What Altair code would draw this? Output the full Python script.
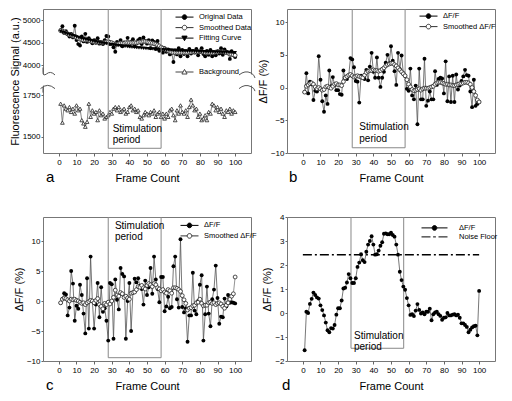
import altair as alt
import pandas as pd

FONT = "Liberation Sans"

frames = list(range(1, 101))
x_ticks = list(range(0, 101, 10))

# ---------------- Panel a : raw fluorescence ----------------
orig_data = [4780, 4870, 4720, 4760, 4690, 4640, 4700, 4620, 4880, 4560,
             4470, 4440, 4640, 4530, 4700, 4520, 4600, 4550, 4490, 4560,
             4500, 4600, 4480, 4510, 4470, 4560, 4650, 4640, 4470, 4490,
             4400, 4300, 4520, 4480, 4560, 4420, 4510, 4470, 4610, 4440,
             4520, 4580, 4420, 4480, 4560, 4590, 4470, 4620, 4540, 4480,
             4560, 4380, 4550, 4520, 4360, 4540, 4320, 4400, 4280, 4380,
             4300, 4350, 4240, 4280, 4070, 4330, 4240, 4380, 4200, 4340,
             4250, 4300, 4200, 4360, 4260, 4320, 4280, 4360, 4220, 4300,
             4380, 4250, 4200, 4320, 4230, 4340, 4200, 4290, 4220, 4310,
             4260, 4380, 4230, 4350, 4300, 4280, 4140, 4310, 4260, 4180]
smooth_data = [4770, 4760, 4740, 4720, 4700, 4680, 4670, 4650, 4640, 4620,
               4600, 4580, 4570, 4560, 4560, 4560, 4550, 4540, 4530, 4520,
               4520, 4520, 4510, 4510, 4500, 4510, 4520, 4520, 4510, 4500,
               4480, 4470, 4470, 4480, 4490, 4490, 4490, 4500, 4500, 4500,
               4500, 4500, 4500, 4500, 4510, 4520, 4520, 4530, 4530, 4520,
               4510, 4500, 4490, 4480, 4470, 4450, 4430, 4400, 4380, 4360,
               4340, 4320, 4300, 4290, 4280, 4280, 4280, 4280, 4280, 4280,
               4280, 4280, 4280, 4290, 4290, 4300, 4300, 4300, 4300, 4300,
               4300, 4290, 4280, 4280, 4280, 4280, 4280, 4280, 4290, 4290,
               4300, 4300, 4300, 4290, 4280, 4270, 4250, 4240, 4230, 4220]
fit_curve = [4755, 4740, 4725, 4711, 4697, 4684, 4671, 4658, 4646, 4634,
             4622, 4611, 4600, 4589, 4579, 4569, 4559, 4550, 4541, 4532,
             4524, 4516, 4508, 4500, 4493, 4486, 4479, 4472, 4466, 4460,
             4454, 4448, 4442, 4437, 4432, 4427, 4422, 4417, 4413, 4408,
             4404, 4400, 4396, 4392, 4388, 4384, 4381, 4377, 4374, 4371,
             4368, 4365, 4362, 4359, 4356, 4353, 4350, 4348, 4345, 4343,
             4340, 4338, 4336, 4334, 4331, 4329, 4327, 4325, 4323, 4321,
             4320, 4318, 4316, 4314, 4313, 4311, 4309, 4308, 4306, 4305,
             4303, 4302, 4300, 4299, 4298, 4296, 4295, 4294, 4292, 4291,
             4290, 4289, 4288, 4287, 4286, 4285, 4284, 4283, 4282, 4281]
background = [1700, 1585, 1690, 1670, 1660, 1680, 1650, 1670, 1640, 1690,
              1660, 1670, 1600, 1580, 1560, 1590, 1700, 1620, 1660, 1640,
              1650, 1600, 1660, 1630, 1640, 1610, 1620, 1630, 1650, 1640,
              1670, 1680, 1660, 1680, 1650, 1660, 1670, 1640, 1650, 1680,
              1690, 1660, 1670, 1650, 1660, 1620, 1610, 1630, 1650, 1640,
              1630, 1650, 1640, 1660, 1620, 1640, 1650, 1620, 1640, 1610,
              1640, 1620, 1660, 1670, 1630, 1600, 1660, 1640, 1690, 1650,
              1640, 1660, 1620, 1680, 1725, 1690, 1660, 1670, 1620, 1640,
              1600, 1610, 1630, 1600, 1650, 1640, 1700, 1690, 1660, 1680,
              1650, 1670, 1640, 1620, 1660, 1650, 1670, 1640, 1660, 1650]

# axis-break marks of panel a (frame edges, lower-scale values)
break_x = [-9, 109]
break_y_upper = 1884
break_y_lower = 1804
break_gap_y = 1844

# ---------------- Panel b ----------------
dff_b = [-0.7, 2.2, -0.9, 0.9, 0.5, -1.9, -0.5, -0.6, 4.8, 1.2,
         -2.1, -3.7, -1.2, -2.5, 2.6, 0.2, 1.6, 0.4, -0.4, -0.4,
         -1.0, -1.1, 2.6, 1.5, 1.3, 1.8, 4.5, 4.3, 3.1, 1.0,
         0.9, -2.3, 1.8, 1.5, 1.3, 2.7, 1.1, 3.2, 5.3, 2.4,
         1.5, 4.6, 1.5, 0.1, 1.5, 2.4, 3.8, 5.0, 3.7, 6.3,
         4.1, 2.5, 0.4, 5.3, 2.8, 4.9, 2.2, 1.8, -0.2, -0.5,
         2.9, -1.2, -1.8, 0.3, -5.6, 2.9, -1.8, -1.8, 4.4, -2.8,
         -2.0, -0.6, -1.8, -1.8, 2.5, 0.4, 1.3, 1.5, 1.4, -0.9,
         4.0, -2.1, 1.7, -2.2, 1.8, -2.2, 2.0, -0.3, 0.3, 1.0,
         1.7, 2.7, 1.9, 1.8, -0.6, -3.0, 1.2, -2.8, -2.5, -2.2]
smooth_b = [-0.7, 0.2, 0.4, 0.6, 0.7, 0.5, 0.1, -0.2, 0.0, -0.2,
            -0.4, -0.3, 0.1, 0.2, 0.0, -0.1, 0.2, 0.5, 0.6, 0.4,
            0.4, 0.3, 0.9, 1.5, 1.7, 1.9, 2.0, 1.8, 1.6, 1.7,
            1.8, 1.7, 1.6, 1.5, 1.9, 2.3, 2.5, 2.6, 2.6, 2.7,
            2.6, 2.6, 2.5, 2.6, 2.8, 3.0, 3.3, 3.5, 3.6, 3.7,
            3.7, 3.5, 3.3, 3.0, 2.7, 2.4, 2.1, 1.8, 1.2, 0.5,
            0.1, -0.3, -0.5, -0.4, -0.3, -0.2, -0.4, -0.2, -0.1, -0.1,
            -0.1, 0.0, 0.1, 0.2, 0.5, 0.7, 0.8, 0.8, 0.7, 0.6,
            0.5, 0.5, 0.4, 0.4, 0.3, 0.3, 0.4, 0.5, 0.6, 0.6,
            0.7, 0.8, 0.8, 0.7, 0.5, 0.0, -0.6, -1.2, -1.9, -2.2]

# ---------------- Panel c ----------------
dff_c = [-0.3, 0.3, 1.3, 1.1, -2.4, -1.1, 5.0, 2.9, -3.3, -0.8,
         -1.3, 2.7, 1.0, -2.1, -5.4, 3.8, -4.6, 7.4, 0.0, -4.6,
         -0.6, 3.0, -2.7, 2.3, -1.8, -1.2, -3.3, -6.6, 3.0, 2.8,
         -6.3, 3.6, 0.2, -1.4, 5.5, 4.5, 4.1, -6.3, 0.0, 3.0,
         -5.0, 1.4, 3.7, 3.1, 3.8, 2.5, 2.0, -0.6, 3.4, 1.0,
         2.3, 5.5, 1.2, 7.4, 3.6, 2.0, -0.2, 4.0, 4.0, -1.7,
         -0.9, 0.7, -1.2, -1.0, 5.8, 7.4, 0.3, -1.1, 10.3, -1.0,
         -1.9, -1.2, -6.8, -2.4, -2.4, 4.7, -1.6, -2.2, 0.0, 2.7,
         4.3, -6.6, -2.2, 2.4, -2.1, -4.2, 0.3, 1.9, 5.9, 0.5,
         -3.8, -2.6, -2.7, 0.4, -0.9, 1.0, -0.3, -0.2, -0.3, -0.4]
smooth_c = [-0.3, 0.3, 0.5, 0.4, 0.2, 0.0, 0.3, 0.2, 0.3, 0.1,
            0.0, -0.2, -0.4, -0.3, -0.6, -0.3, -0.1, 0.1, 0.0, -0.3,
            0.1, 0.4, -0.6, -0.9, -1.3, -0.4, -0.6, -0.2, -0.5, 0.0,
            0.6, 1.8, 1.0, 0.8, 1.4, 1.2, 0.6, 0.8, 0.5, 0.3,
            1.3, 1.4, 1.5, 1.9, 2.4, 2.3, 2.6, 2.2, 2.0, 2.6,
            2.9, 2.7, 2.4, 2.9, 2.7, 2.2, 2.0, 1.7, 1.9, 1.5,
            1.3, 1.9, 1.7, 1.3, 2.2, 2.2, 2.1, 1.9, 1.6, 0.9,
            0.2, -0.4, -1.5, -1.2, -1.1, -0.8, -0.7, -0.3, -0.2, 0.3,
            -0.4, -0.8, -0.7, -0.7, -0.3, -0.2, -0.4, -0.3, -0.6, -0.4,
            -0.3, -0.5, -0.9, -1.2, -0.7, -0.3, 0.3, 0.8, 1.2, 4.0]

# ---------------- Panel d ----------------
dff_d = [-1.55, 0.05, 0.0, 0.38, 0.59, 0.85, 0.75, 0.65, 0.6, 0.32,
         0.12, -0.1, -0.4, -0.72, -0.8, -0.63, -0.65, -0.5, -0.07, 0.2,
         0.2, 0.52, 1.02, 1.05, 1.27, 1.62, 1.45, 1.25, 1.25, 1.45,
         1.92, 2.1, 2.45, 2.2, 2.12, 2.55, 2.85, 3.0, 3.2, 2.85,
         2.43, 2.45, 2.6, 2.8, 2.95, 3.3, 3.32, 3.28, 3.28, 3.35,
         3.25, 3.18, 2.85, 2.43, 1.72, 1.37, 1.1, 0.97, 0.62, 0.32,
         -0.08, -0.05, -0.13, 0.1, 0.37, 0.13, -0.02, 0.02, -0.05, 0.05,
         0.05, 0.18, -0.3, -0.05, 0.02, 0.05, -0.05, -0.12, -0.28, -0.2,
         -0.18, 0.0, -0.1, -0.1, -0.07, -0.05, -0.1, -0.07, -0.2, -0.43,
         -0.43, -0.5, -0.58, -0.8, -0.7, -0.6, -0.55, -0.53, -0.93, 0.92]
noise_floor = [2.43]
noise_span = [0, 100]

# stimulation boxes: [x start, x end, y bottom, y top] per panel
stim_a = [28, 58, 1429, 2300]
stim_b = [28, 58, -9.2, 12]
stim_c = [28, 58, -9.45, 14]
stim_d = [27.3, 57.2, -1.47, 4]
stim_label = ["Stimulation", "period"]
stim_text_a = [30.5, 1546, 1478]
stim_text_b = [32.0, -6.1, -7.8]
stim_text_c = [31.8, 12.5, 10.6]
stim_text_d = [29.0, -0.95, -1.43]

W, H = 208, 144
KY = H / 152.0  # vertical factor relative to the reference panel height
GRAY_LINE = "#555555"
FRAME = "#777777"


def xenc():
    return alt.X("frame:Q", scale=alt.Scale(domain=[-9, 109], nice=False, zero=False),
                 axis=alt.Axis(values=x_ticks, title="Frame Count", labelFontSize=8,
                               titleFontSize=11, titleFontWeight="normal", tickSize=3,
                               labelPadding=2, titlePadding=6, domain=False, grid=False,
                               labelFlush=False, labelAngle=0, format="d"))


def make_y(domain, values, title, rng=None, title_y=None):
    scale_kw = dict(domain=domain, nice=False, zero=False)
    if rng is not None:
        scale_kw["range"] = rng
    axis_kw = dict(values=values, labelFontSize=8, titleFontSize=11, titleFontWeight="normal",
                   tickSize=2, labelPadding=1, titlePadding=2, domain=False, grid=False,
                   orient="left", labelFlush=False, format="d")
    axis_kw["title"] = title
    if title_y is not None:
        axis_kw["titleY"] = title_y
    scale = alt.Scale(**scale_kw)
    axis = alt.Axis(**axis_kw)

    def y(col):
        return alt.Y(f"{col}:Q", scale=scale, axis=axis)
    return y


def line(df, col, y, color=GRAY_LINE):
    return alt.Chart(df).mark_line(color=color, strokeWidth=0.8).encode(x=xenc(), y=y(col))


def pts(df, col, y, shape="circle", filled=True, size=15):
    if filled:
        m = alt.Chart(df).mark_point(shape=shape, filled=True, color="black", size=size, opacity=1)
    else:
        m = alt.Chart(df).mark_point(shape=shape, filled=True, fill="white", stroke="#222222",
                                     strokeWidth=0.8, size=size, opacity=1)
    return m.encode(x=xenc(), y=y(col))


def stim_box(spec, y):
    df = pd.DataFrame({"frame": [spec[0]], "frame2": [spec[1]], "ylo": [spec[2]], "yhi": [spec[3]]})
    return alt.Chart(df).mark_rect(filled=False, stroke="#888888", strokeWidth=1, clip=True).encode(
        x=xenc(), x2="frame2:Q", y=y("ylo"), y2="yhi:Q")


def stim_text(spec, y):
    df = pd.DataFrame({"frame": [spec[0], spec[0]], "ty": [spec[1], spec[2]], "label": stim_label})
    return alt.Chart(df).mark_text(align="left", baseline="middle", fontSize=10, font=FONT,
                                   color="black").encode(x=xenc(), y=y("ty"), text="label:N")


P_CIRC = "M-2.25,0L-0.58,0M0.58,0L2.25,0M0.58,0A0.58,0.58,0,1,1,-0.58,0A0.58,0.58,0,1,1,0.58,0Z"
P_TDOWN = "M-2.25,0L-0.37,0M0.37,0L2.25,0M-0.65,-0.5L0.65,-0.5L0,0.65Z"
P_TUP = "M-2.25,0L-0.37,0M0.37,0L2.25,0M-0.65,0.5L0.65,0.5L0,-0.65Z"
P_CIRC_LONG = "M-3.25,0L-0.58,0M0.58,0L3.25,0M0.58,0A0.58,0.58,0,1,1,-0.58,0A0.58,0.58,0,1,1,0.58,0Z"
P_DASHDOT = "M-3.25,0L-1.0,0M-0.35,0L0.35,0M1.0,0L3.25,0"

# break symbols (unit = 5 px)
P_BRK_L_UP = "M0,-1.2L0,-0.2Q0,0.6 0.7,0.1Q1.5,-0.6 2.4,0.3"
P_BRK_L_LO = "M-0.5,0.4Q0.9,-0.9 2.4,0.4M0,0.1L0,1.2"
P_BRK_R_UP = "M-2.4,0.3Q-1.2,-0.7 0,-0.1Q0.7,0.3 0.8,0.9"
P_BRK_R_LO = "M-2.4,0.4Q-1.2,-0.6 0,0Q0.7,0.3 0.8,0.9"
P_GAP = "M-0.5,-1.1L0.5,-1.1L0.5,1.1L-0.5,1.1Z"


def legend_layer(names, shapes, fills, strokes, cx, cy, row_pad=1.5, label_offset=10):
    df = pd.DataFrame({"series": names})
    leg = alt.Legend(title=None, orient="none", legendX=cx - 4, legendY=cy - 4,
                     symbolSize=64, symbolStrokeWidth=1, symbolOpacity=1,
                     labelFontSize=7.5, labelFont=FONT, labelColor="black",
                     labelOffset=label_offset, rowPadding=row_pad, padding=0)
    return alt.Chart(df).mark_point(opacity=0).encode(
        shape=alt.Shape("series:N", scale=alt.Scale(domain=names, range=shapes), legend=leg),
        fill=alt.Fill("series:N", scale=alt.Scale(domain=names, range=fills), legend=leg),
        stroke=alt.Stroke("series:N", scale=alt.Scale(domain=names, range=strokes), legend=leg),
    )


def letter(t, dx):
    return alt.TitleParams(t, orient="bottom", anchor="start", frame="group", offset=-13,
                           fontSize=15, fontWeight="normal", font=FONT, dx=dx, color="black")


def break_layer(y):
    gap_df = pd.DataFrame({"frame": break_x, "by": [break_gap_y, break_gap_y]})
    gap = alt.Chart(gap_df).mark_point(shape=P_GAP, filled=True, fill="white", strokeWidth=0,
                                       size=100, opacity=1).encode(x=xenc(), y=y("by"))
    layers = [gap]
    for bx, by, shp in [(break_x[0], break_y_upper, P_BRK_L_UP), (break_x[0], break_y_lower, P_BRK_L_LO),
                        (break_x[1], break_y_upper, P_BRK_R_UP), (break_x[1], break_y_lower, P_BRK_R_LO)]:
        dfb = pd.DataFrame({"frame": [bx], "by": [by]})
        layers.append(alt.Chart(dfb).mark_point(shape=shp, filled=False, stroke="#555555",
                                                strokeWidth=1, size=100, opacity=1)
                      .encode(x=xenc(), y=y("by")))
    return alt.layer(*layers)


# ---------- panel a ----------
df_a = pd.DataFrame({"frame": frames, "orig": orig_data, "smooth": smooth_data,
                     "fit": fit_curve, "bg": background})
y_up = make_y([4000, 5000], [4000, 4500, 5000], "Fluorescence Signal (a.u.)",
              rng=[59.3 * KY, 12.0 * KY], title_y=H / 2)
y_lo = make_y([1500, 1750], [1500, 1750], None, rng=[134.7 * KY, 91.3 * KY])

upper = alt.layer(
    line(df_a, "orig", y_up),
    pts(df_a, "orig", y_up),
    line(df_a, "smooth", y_up, "#777777"),
    pts(df_a, "smooth", y_up, filled=False),
    pts(df_a, "fit", y_up, shape="triangle-down", size=14),
    legend_layer(["Original Data", "Smoothed Data", "Fitting Curve"],
                 [P_CIRC, P_CIRC, P_TDOWN], ["black", "white", "black"],
                 ["black", "#333333", "black"], 141, 7.6),
)
lower = alt.layer(
    line(df_a, "bg", y_lo, "#666666"),
    pts(df_a, "bg", y_lo, shape="triangle-up", filled=False, size=14),
    stim_box(stim_a, y_lo),
    stim_text(stim_text_a, y_lo),
    break_layer(y_lo),
    legend_layer(["Background"], [P_TUP], ["white"], ["#444444"], 141, 62.5),
)
panel_a = alt.layer(upper, lower).resolve_scale(
    y="independent", shape="independent", fill="independent", stroke="independent"
).properties(width=W, height=H, title=letter("a", 3))

# ---------- panel b ----------
df_b = pd.DataFrame({"frame": frames, "d": dff_b, "s": smooth_b})
y_b = make_y([-10, 12], [-10, -5, 0, 5, 10], "ΔF/F (%)")
panel_b = alt.layer(
    stim_box(stim_b, y_b),
    line(df_b, "d", y_b),
    pts(df_b, "d", y_b),
    line(df_b, "s", y_b, "#777777"),
    pts(df_b, "s", y_b, filled=False),
    stim_text(stim_text_b, y_b),
    legend_layer(["ΔF/F", "Smoothed ΔF/F"], [P_CIRC, P_CIRC], ["black", "white"],
                 ["black", "#333333"], 141, 6.6),
).properties(width=W, height=H, title=letter("b", 2))

# ---------- panel c ----------
df_c = pd.DataFrame({"frame": frames, "d": dff_c, "s": smooth_c})
y_c = make_y([-10, 14], [-10, -5, 0, 5, 10], "ΔF/F (%)")
panel_c = alt.layer(
    stim_box(stim_c, y_c),
    line(df_c, "d", y_c),
    pts(df_c, "d", y_c),
    line(df_c, "s", y_c, "#777777"),
    pts(df_c, "s", y_c, filled=False),
    stim_text(stim_text_c, y_c),
    legend_layer(["ΔF/F", "Smoothed ΔF/F"], [P_CIRC, P_CIRC], ["black", "white"],
                 ["black", "#333333"], 146, 7.9),
).properties(width=W, height=H, title=letter("c", 3))

# ---------- panel d ----------
df_d = pd.DataFrame({"frame": frames, "d": dff_d})
df_nf = pd.DataFrame({"frame": [noise_span[0]], "frame2": [noise_span[1]], "nf": noise_floor})
y_d = make_y([-2, 4], [-2, -1, 0, 1, 2, 3, 4], "ΔF/F (%)")
panel_d = alt.layer(
    stim_box(stim_d, y_d),
    alt.Chart(df_nf).mark_rule(color="black", strokeWidth=1.5, strokeDash=[9, 3, 2, 3]).encode(
        x=xenc(), x2="frame2:Q", y=y_d("nf")),
    line(df_d, "d", y_d),
    pts(df_d, "d", y_d),
    stim_text(stim_text_d, y_d),
    legend_layer(["ΔF/F", "Noise Floor"], [P_CIRC_LONG, P_DASHDOT], ["black", "black"],
                 ["black", "black"], 147, 10.4, row_pad=0, label_offset=20),
).properties(width=W, height=H, title=letter("d", -5))

res = dict(shape="independent", fill="independent", stroke="independent")
chart = alt.concat(panel_a, panel_b, panel_c, panel_d, columns=2,
                   spacing={"row": 64, "column": 36}, bounds="flush").resolve_scale(**res).properties(padding=0)

chart = chart.configure(font=FONT).configure_view(stroke=FRAME, strokeWidth=1).configure_axis(
    labelFont=FONT, titleFont=FONT, labelColor="black", titleColor="black", tickColor="#666666"
).configure_title(font=FONT)

chart.save("out.html", embed_options={"renderer": "svg", "actions": False})
